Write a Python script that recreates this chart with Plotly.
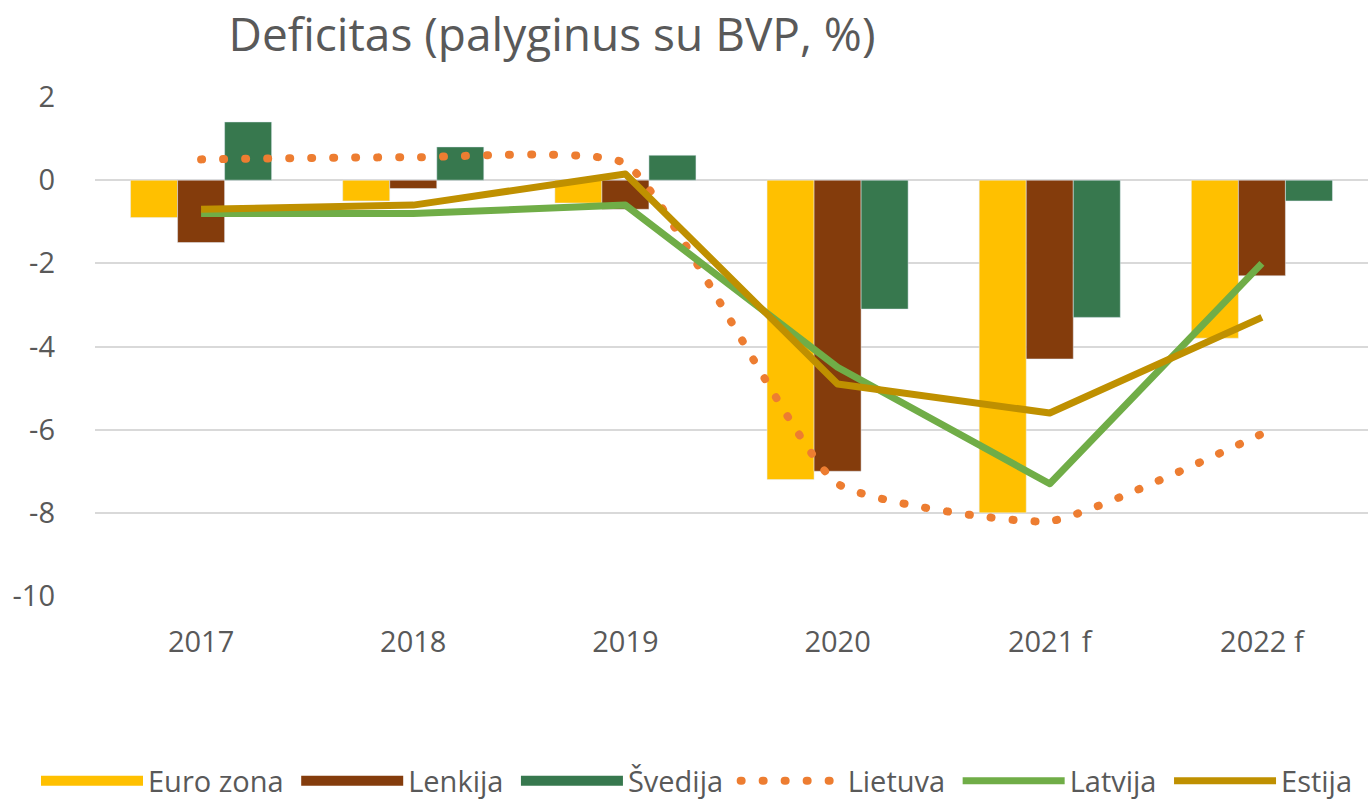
import plotly.graph_objects as go

categories = ["2017", "2018", "2019", "2020", "2021 f", "2022 f"]
euro_zona = [-0.9, -0.5, -0.55, -7.2, -8.0, -3.8]
lenkija = [-1.5, -0.2, -0.7, -7.0, -4.3, -2.3]
svedija = [1.4, 0.8, 0.6, -3.1, -3.3, -0.5]
lietuva = [0.5, 0.55, 0.4, -7.3, -8.2, -6.1]
latvija = [-0.8, -0.8, -0.6, -4.5, -7.3, -2.0]
estija = [-0.7, -0.6, 0.15, -4.9, -5.6, -3.3]
y_ticks = [2, 0, -2, -4, -6, -8, -10]
y_tick_text = ["2", "0", "-2", "-4", "-6", "-8", "-10"]

FONT = "Open Sans"
GREY = "#595959"
C_EURO, C_LEN, C_SVE = "#FFC000", "#843C0C", "#37784E"
NB = "\u00a0"

fig = go.Figure()
fig.add_bar(x=categories, y=euro_zona, name="Euro zona", marker_color=C_EURO,
            showlegend=False, legendgroup="eu")
fig.add_bar(x=categories, y=lenkija, name="Lenkija", marker_color=C_LEN,
            showlegend=False, legendgroup="len")
fig.add_bar(x=categories, y=svedija, name="Švedija", marker_color=C_SVE,
            showlegend=False, legendgroup="sve")
# legend-only swatches for the bars (wide rectangles like the original)
for nm, col, grp in [("Euro zona", C_EURO, "eu"), ("Lenkija", C_LEN, "len"), ("Švedija", C_SVE, "sve")]:
    fig.add_scatter(x=[None], y=[None], name=nm + NB, mode="lines", legendgroup=grp,
                    line=dict(color=col, width=19), hoverinfo="skip")
fig.add_scatter(x=categories, y=lietuva, name="Lietuva" + NB, mode="lines",
                line=dict(color="#ED7D31", width=8, dash="1px,21px", shape="spline", smoothing=0.45))
fig.add_scatter(x=categories, y=latvija, name="Latvija" + NB, mode="lines",
                line=dict(color="#70AD47", width=7))
fig.add_scatter(x=categories, y=estija, name="Estija", mode="lines",
                line=dict(color="#BF9000", width=7))

fig.update_layout(
    width=1368, height=800,
    paper_bgcolor="white", plot_bgcolor="white",
    margin=dict(l=95, r=0, t=97, b=204, autoexpand=False),
    barmode="group", bargap=0.335, bargroupgap=0,
    font=dict(family=FONT, color=GREY, size=29),
    title=dict(text="Deficitas (palyginus su BVP, %)", x=552 / 1368, xref="container",
               xanchor="center", y=1 - 35 / 800, yref="container", yanchor="middle",
               font=dict(family=FONT, size=46, color=GREY)),
    showlegend=True,
    legend=dict(orientation="h", x=(36 - 95) / 1273, xanchor="left",
                y=(596 - 781) / 499, yanchor="middle",
                font=dict(family=FONT, size=29, color=GREY), itemwidth=102,
                traceorder="normal", bgcolor="rgba(0,0,0,0)"),
    xaxis=dict(showgrid=False, showline=False, ticks="", ticklabelstandoff=26,
               tickfont=dict(size=29, color=GREY)),
    yaxis=dict(range=[-10, 2], tickvals=y_ticks, ticktext=y_tick_text,
               showgrid=True, gridcolor="#D9D9D9", gridwidth=2,
               zeroline=True, zerolinecolor="#D9D9D9", zerolinewidth=2, showline=False,
               ticks="", ticklabelstandoff=39, tickfont=dict(size=29, color=GREY)),
)

post = """
document.body.style.margin = '0';
document.body.style.overflow = 'hidden';
function roundDots(){
  document.querySelectorAll('path.js-line').forEach(function(p){
    var d = p.style.strokeDasharray || p.getAttribute('stroke-dasharray') || '';
    if (d.indexOf('21') >= 0) { p.style.strokeLinecap = 'round'; }
    else { p.style.strokeLinejoin = 'round'; }
  });
}
roundDots();
var gd = document.getElementsByClassName('plotly-graph-div')[0];
if (gd && gd.on) { gd.on('plotly_afterplot', roundDots); }
"""
fig.write_html("out.html", post_script=post, config={"displayModeBar": False})
